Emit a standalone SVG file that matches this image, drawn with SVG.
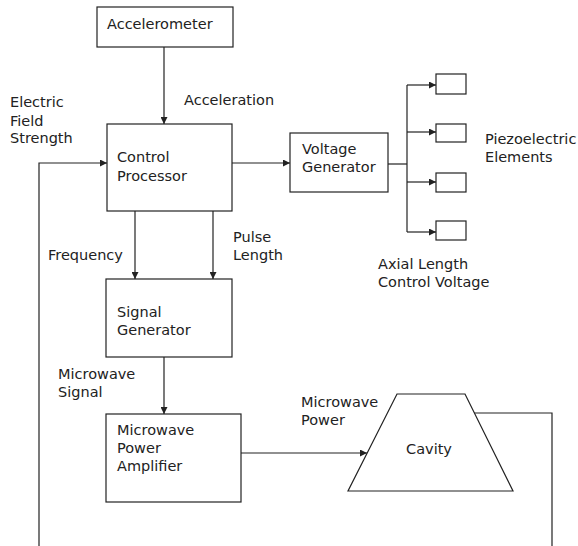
<svg xmlns="http://www.w3.org/2000/svg" width="578" height="546" viewBox="0 0 578 546">
<defs>
<style>
.box{fill:#fff;stroke:#222;stroke-width:1.2}
.ln{fill:none;stroke:#222;stroke-width:1.2}
text{font-family:"DejaVu Sans",Verdana,sans-serif;font-size:14.5px;fill:#222}
</style>
<marker id="ah" viewBox="0 0 10 10" refX="10" refY="5" markerWidth="8" markerHeight="7" markerUnits="userSpaceOnUse" orient="auto">
<path d="M0,0 L10,5 L0,10 Z" fill="#222"/>
</marker>
</defs>
<rect width="578" height="546" fill="#fff"/>
<g id="connectors">
<line class="ln" x1="164" y1="47" x2="164" y2="124" marker-end="url(#ah)"/>
<polyline class="ln" points="39,546 39,163 107,163" marker-end="url(#ah)"/>
<line class="ln" x1="232" y1="163" x2="290" y2="163" marker-end="url(#ah)"/>
<line class="ln" x1="388" y1="164" x2="407" y2="164"/>
<line class="ln" x1="407" y1="85" x2="407" y2="232"/>
<line class="ln" x1="407" y1="85" x2="436" y2="85" marker-end="url(#ah)"/>
<line class="ln" x1="407" y1="132" x2="436" y2="132" marker-end="url(#ah)"/>
<line class="ln" x1="407" y1="182" x2="436" y2="182" marker-end="url(#ah)"/>
<line class="ln" x1="407" y1="232" x2="436" y2="232" marker-end="url(#ah)"/>
<line class="ln" x1="135" y1="211" x2="135" y2="279" marker-end="url(#ah)"/>
<line class="ln" x1="213" y1="211" x2="213" y2="279" marker-end="url(#ah)"/>
<line class="ln" x1="164" y1="357" x2="164" y2="414" marker-end="url(#ah)"/>
<line class="ln" x1="241" y1="453" x2="367" y2="453" marker-end="url(#ah)"/>
<polyline class="ln" points="474,413 552,413 552,546"/>
</g>
<g id="accelerometer">
<rect class="box" x="97" y="7" width="136" height="40"/>
<text x="107" y="29">Accelerometer</text>
</g>
<g id="control-processor">
<rect class="box" x="107" y="124" width="125" height="87"/>
<text x="117" y="162">Control</text>
<text x="117" y="181">Processor</text>
</g>
<g id="voltage-generator">
<rect class="box" x="290" y="133" width="98" height="59"/>
<text x="302" y="154">Voltage</text>
<text x="302" y="172">Generator</text>
</g>
<g id="piezo-1"><rect class="box" x="436" y="74" width="30" height="20"/></g>
<g id="piezo-2"><rect class="box" x="436" y="124" width="30" height="18"/></g>
<g id="piezo-3"><rect class="box" x="436" y="173" width="30" height="19"/></g>
<g id="piezo-4"><rect class="box" x="436" y="221" width="30" height="19"/></g>
<g id="signal-generator">
<rect class="box" x="106" y="279" width="126" height="78"/>
<text x="117" y="317">Signal</text>
<text x="117" y="335">Generator</text>
</g>
<g id="power-amplifier">
<rect class="box" x="106" y="414" width="135" height="88"/>
<text x="117" y="435">Microwave</text>
<text x="117" y="453">Power</text>
<text x="117" y="471">Amplifier</text>
</g>
<g id="cavity">
<polygon class="box" points="397,394 465,394 513,491 348,491"/>
<text x="429" y="454" text-anchor="middle">Cavity</text>
</g>
<g id="labels">
<text x="184" y="105">Acceleration</text>
<text x="10" y="107">Electric</text>
<text x="10" y="126">Field</text>
<text x="10" y="143">Strength</text>
<text x="485" y="144">Piezoelectric</text>
<text x="485" y="162">Elements</text>
<text x="378" y="269">Axial Length</text>
<text x="378" y="287">Control Voltage</text>
<text x="48" y="260">Frequency</text>
<text x="233" y="242">Pulse</text>
<text x="233" y="260">Length</text>
<text x="58" y="379">Microwave</text>
<text x="58" y="397">Signal</text>
<text x="301" y="407">Microwave</text>
<text x="301" y="425">Power</text>
</g>
</svg>
